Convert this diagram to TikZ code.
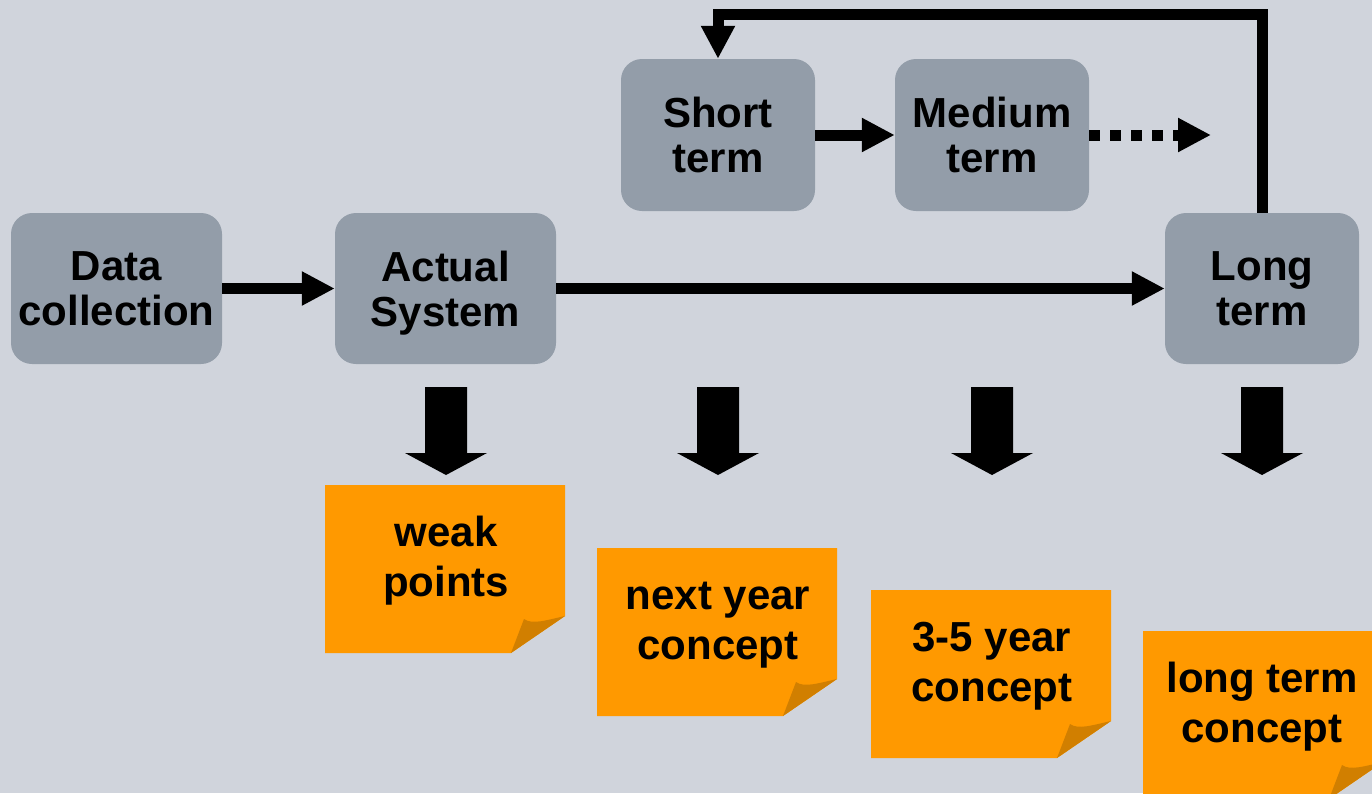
\documentclass[tikz,border=0pt]{standalone}
\usepackage{fontspec}
\setmainfont{Liberation Sans}
\usetikzlibrary{arrows.meta,calc}

\definecolor{canvas}{RGB}{208,212,220}
\definecolor{boxgray}{RGB}{147,157,169}
\definecolor{notefill}{RGB}{255,153,0}
\definecolor{notefold}{RGB}{209,127,0}

\tikzset{
  stage/.style={fill=boxgray, rounded corners=21pt, inner sep=0pt, align=center,
    font=\fontsize{42}{45}\selectfont\bfseries},
  conn/.style={line width=11pt, -{Triangle[length=33pt,width=32pt]}},
  dotconn/.style={conn, dash pattern=on 11pt off 10pt},
  sticky/.style={fill=canvas, minimum width=240pt, minimum height=168pt, inner sep=0pt,
    path picture={
      \path (path picture bounding box.north west) coordinate (pnw)
            (path picture bounding box.north east) coordinate (pne)
            (path picture bounding box.south east) coordinate (pse)
            (path picture bounding box.south west) coordinate (psw);
      \fill[notefill] (pnw) -- (pne) -- ($(pse)+(0,-37)$) -- ($(pse)+(-54,0)$) -- (psw) -- cycle;
      \fill[notefold] ($(pse)+(-54,0)$) -- ($(pse)+(-41,-34)$)
        .. controls ($(pse)+(-33,-28)$) and ($(pse)+(-18,-33)$) .. ($(pse)+(0,-37)$) -- cycle;
    }},
  notetext/.style={anchor=base, align=center, inner sep=0pt,
    font=\fontsize{42}{50}\selectfont\bfseries},
}

\begin{document}
\begin{tikzpicture}[x=1pt,y=-1pt]
  \useasboundingbox (0,0) rectangle (1372,793);
  \clip (0,0) rectangle (1372,793);
  \fill[canvas] (0,0) rectangle (1372,793);

  % process stages
  \node[stage, minimum width=211pt, minimum height=151pt] (dc) at (116.5,288.5) {Data\\collection};
  \node[stage, minimum width=221pt, minimum height=151pt] (as) at (445.5,288.5) {Actual\\\raisebox{0pt}[\height][0pt]{System}};
  \node[stage, minimum width=194pt, minimum height=151pt] (lt) at (1262,288.5) {Long\\term};
  \node[stage, minimum width=194pt, minimum height=152pt] (st) at (718,135) {Short\\term};
  \node[stage, minimum width=194pt, minimum height=152pt] (md) at (992,135) {Medium\\term};

  % connectors
  \draw[conn] (dc) -- (as);
  \draw[conn] (as) -- (lt);
  \draw[conn] (st) -- (md);
  \coordinate (more) at (1211,135);
  \draw[dotconn] (md.east) -- (more);
  \coordinate (loop) at (1000,14);
  \draw[conn] (lt.north) |- (loop) -| (st.north);

  % block arrows towards the results
  \foreach \x in {446,718,992,1262}
    \fill (\x-21,387) -- (\x+21,387) -- (\x+21,453) -- (\x+41,453) -- (\x,475)
          -- (\x-41,453) -- (\x-21,453) -- cycle;

  % result notes (text anchored at the baseline of the second line)
  \node[sticky] (n1) at (445,569) {};
  \node[sticky] (n2) at (717,632) {};
  \node[sticky] (n3) at (991,674) {};
  \node[sticky] (n4) at (1263,715) {};
  \node[notetext] (t1) at ($(n1.north)+(1,112)$) {weak\\points};
  \node[notetext] (t2) at ($(n2.north)+(1,112)$) {next year\\concept};
  \node[notetext] (t3) at ($(n3.north)+(1,112)$) {3-5 year\\concept};
  \node[notetext] (t4) at ($(n4.north)+(-1,112)$) {long term\\concept};
\end{tikzpicture}
\end{document}
